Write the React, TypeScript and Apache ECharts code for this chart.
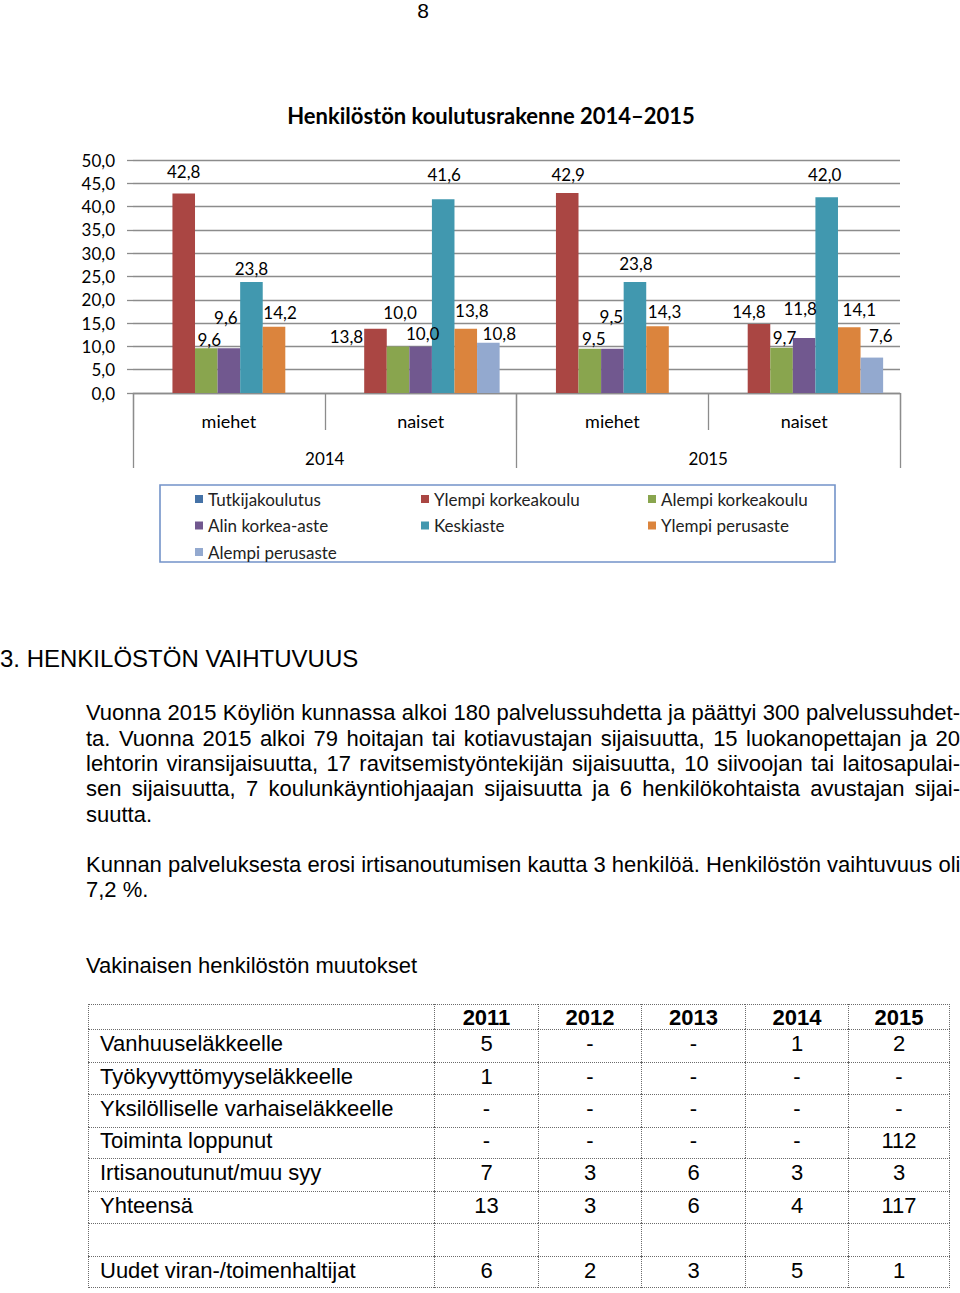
import React, { useEffect, useRef } from "react";
import * as echarts from "echarts";

// ---------- Chart data ----------
const categories = ["miehet", "naiset", "miehet", "naiset"];
const years = ["2014", "2015"];
const seriesNames = [
  "Tutkijakoulutus",
  "Ylempi korkeakoulu",
  "Alempi korkeakoulu",
  "Alin korkea-aste",
  "Keskiaste",
  "Ylempi perusaste",
  "Alempi perusaste",
];
const tutkijakoulutus: (number | null)[] = [null, null, null, null];
const ylempiKorkeakoulu: (number | null)[] = [42.8, 13.8, 42.9, 14.8];
const alempiKorkeakoulu: (number | null)[] = [9.6, 10.0, 9.5, 9.7];
const alinKorkeaAste: (number | null)[] = [9.6, 10.0, 9.5, 11.8];
const keskiaste: (number | null)[] = [23.8, 41.6, 23.8, 42.0];
const ylempiPerusaste: (number | null)[] = [14.2, 13.8, 14.3, 14.1];
const alempiPerusaste: (number | null)[] = [null, 10.8, null, 7.6];
const seriesValues = [
  tutkijakoulutus,
  ylempiKorkeakoulu,
  alempiKorkeakoulu,
  alinKorkeaAste,
  keskiaste,
  ylempiPerusaste,
  alempiPerusaste,
];

// ---------- Table data ----------
const tableYears = ["2011", "2012", "2013", "2014", "2015"];
const rowLabels = [
  "Vanhuuseläkkeelle",
  "Työkyvyttömyyseläkkeelle",
  "Yksilölliselle varhaiseläkkeelle",
  "Toiminta loppunut",
  "Irtisanoutunut/muu syy",
  "Yhteensä",
  "",
  "Uudet viran-/toimenhaltijat",
];
const rowValues = [
  ["5", "-", "-", "1", "2"],
  ["1", "-", "-", "-", "-"],
  ["-", "-", "-", "-", "-"],
  ["-", "-", "-", "-", "112"],
  ["7", "3", "6", "3", "3"],
  ["13", "3", "6", "4", "117"],
  ["", "", "", "", ""],
  ["6", "2", "3", "5", "1"],
];

// ---------- Text ----------
const pageNumber = "8";
const chartTitle = "Henkilöstön koulutusrakenne 2014–2015";
const heading = "3. HENKILÖSTÖN VAIHTUVUUS";
const paragraph1 = [
  "Vuonna 2015 Köyliön kunnassa alkoi 180 palvelussuhdetta ja päättyi 300 palvelussuhdet-",
  "ta. Vuonna 2015 alkoi 79 hoitajan tai kotiavustajan sijaisuutta, 15 luokanopettajan ja 20",
  "lehtorin viransijaisuutta, 17 ravitsemistyöntekijän sijaisuutta, 10 siivoojan tai laitosapulai-",
  "sen sijaisuutta, 7 koulunkäyntiohjaajan sijaisuutta ja 6 henkilökohtaista avustajan sijai-",
  "suutta.",
];
const paragraph2 = [
  "Kunnan palveluksesta erosi irtisanoutumisen kautta 3 henkilöä. Henkilöstön vaihtuvuus oli",
  "7,2 %.",
];
const tableCaption = "Vakinaisen henkilöstön muutokset";

// ---------- Styles (positions / colours) ----------
const colors = ["#4572A7", "#AA4643", "#89A54E", "#71588F", "#4198AF", "#DB843D", "#93A9CF"];
// label nudges [dx, dy] per series per category (style only)
const labelNudges: number[][][] = [
  [[0, 0], [0, 0], [0, 0], [0, 0]],
  [[0, -9], [-29, 21], [1, -5], [-10, 1]],
  [[3, 5], [2, -20], [4, 3], [3, 3]],
  [[-3, -17], [2, 1], [-1, -19], [-4, -16]],
  [[0, 0], [1, -11], [1, -5], [-2, -9]],
  [[6, -1], [6, -5], [7, -1], [10, -4]],
  [[0, 0], [11, 4], [0, 0], [9, -9]],
];
const colX = [88, 434, 538, 641, 745, 848, 950];
const rowY = [1004, 1029, 1062, 1094, 1127, 1158, 1191, 1223, 1256, 1288];

const chartFont = "Lato, 'Open Sans', sans-serif";
const fmt = (v: number) => v.toFixed(1).replace(".", ",");
const gridColor = "#8c8c8c";

function buildOption(): any {
  const series = seriesNames.map((name, si) => ({
    type: "bar",
    name,
    xAxisIndex: 0,
    yAxisIndex: 0,
    barGap: "0%",
    barCategoryGap: "17.6%",
    itemStyle: { color: colors[si] },
    label: {
      show: true,
      position: "top",
      distance: 5,
      fontSize: 17,
      fontFamily: chartFont,
      color: "#000",
      formatter: (p: any) => (p.value == null ? "" : fmt(p.value)),
    },
    data: seriesValues[si].map((v, ci) => ({
      value: v,
      label: { offset: labelNudges[si][ci] },
    })),
  }));

  const legendCommon = {
    orient: "vertical",
    top: 490,
    itemWidth: 8,
    itemHeight: 8,
    itemGap: 8.5,
    icon: "rect",
    padding: 0,
    selectedMode: false,
    textStyle: { fontSize: 17, lineHeight: 18, color: "#222", fontFamily: chartFont },
  };

  return {
    animation: false,
    backgroundColor: "#fff",
    color: colors,
    textStyle: { fontFamily: chartFont },
    grid: { left: 133, top: 160, width: 767, height: 233, containLabel: false },
    xAxis: [
      {
        type: "category",
        data: categories,
        position: "bottom",
        axisLine: { show: true, lineStyle: { color: gridColor, width: 1.3 } },
        axisTick: { show: true, length: 37, lineStyle: { color: gridColor, width: 1.3 } },
        axisLabel: { fontSize: 18, color: "#000", margin: 19, fontFamily: chartFont },
      },
      {
        type: "category",
        data: years,
        position: "bottom",
        offset: 0,
        axisLine: { show: false },
        axisTick: { show: true, length: 75, lineStyle: { color: gridColor, width: 1.3 } },
        axisLabel: { fontSize: 17, color: "#000", margin: 57, fontFamily: chartFont },
      },
    ],
    yAxis: {
      type: "value",
      min: 0,
      max: 50,
      interval: 5,
      axisLine: { show: false },
      axisTick: { show: true, length: 6, lineStyle: { color: gridColor, width: 1.3 } },
      splitLine: { show: true, lineStyle: { color: gridColor, width: 1.3 } },
      axisLabel: { fontSize: 17, color: "#000", margin: 18, formatter: (v: number) => fmt(v), fontFamily: chartFont },
    },
    legend: [
      { ...legendCommon, left: 195, data: [seriesNames[0], seriesNames[3], seriesNames[6]] },
      { ...legendCommon, left: 421, data: [seriesNames[1], seriesNames[4]] },
      { ...legendCommon, left: 648, data: [seriesNames[2], seriesNames[5]] },
    ],
    graphic: [
      {
        type: "text",
        x: 491,
        y: 115,
        style: {
          text: chartTitle,
          textAlign: "center",
          textVerticalAlign: "middle",
          fontSize: 22,
          fontWeight: "bold",
          fontFamily: chartFont,
          fill: "#000",
        },
      },
      {
        type: "rect",
        shape: { x: 160, y: 485, width: 675, height: 77 },
        style: { fill: "none", stroke: "#7393C9", lineWidth: 1.6 },
      },
    ],
    series,
  };
}

const bodyFont = "'Liberation Sans', Arial, sans-serif";

function Line({ text, top, left, width, justify, size, bold }: any) {
  return (
    <div
      style={{
        position: "absolute",
        left,
        top,
        width,
        height: 26,
        lineHeight: "26px",
        fontSize: size,
        fontWeight: bold ? "bold" : "normal",
        whiteSpace: "nowrap",
        textAlign: justify ? "justify" : "left",
        textAlignLast: justify ? "justify" : "left",
      } as any}
    >
      {text}
    </div>
  );
}

export default function App() {
  const ref = useRef<HTMLDivElement>(null);
  useEffect(() => {
    if (!ref.current) return;
    const chart = echarts.init(ref.current, undefined, { renderer: "svg" });
    chart.setOption(buildOption());
    return () => chart.dispose();
  }, []);

  const p1Centers = [713, 739, 764, 789, 815];
  const p2Centers = [865, 890];
  const dotted = "1px dotted #6a6a6a";

  const cells: any[] = [];
  const allRows = [["", ...tableYears], ...rowLabels.map((l, i) => [l, ...rowValues[i]])];
  allRows.forEach((row, ri) => {
    row.forEach((txt, ci) => {
      const x0 = colX[ci];
      const x1 = colX[ci + 1];
      const y0 = rowY[ri];
      const y1 = rowY[ri + 1];
      const h = y1 - y0;
      cells.push(
        <div
          key={`c${ri}-${ci}`}
          style={{
            position: "absolute",
            left: x0,
            top: y0,
            width: x1 - x0,
            height: h,
            boxSizing: "border-box",
            borderLeft: dotted,
            borderTop: dotted,
            borderRight: ci === row.length - 1 ? dotted : "none",
            borderBottom: ri === allRows.length - 1 ? dotted : "none",
            fontSize: 22,
            fontWeight: ri === 0 ? "bold" : "normal",
            lineHeight: `${ri === 0 ? h : h - 5}px`,
            textAlign: ci === 0 ? "left" : "center",
            paddingLeft: ci === 0 ? 11 : 0,
            whiteSpace: "nowrap",
            overflow: "visible",
          }}
        >
          {txt}
        </div>
      );
    });
  });

  return (
    <div
      style={{
        position: "absolute",
        left: 0,
        top: 0,
        width: 960,
        height: 1293,
        background: "#fff",
        color: "#000",
        fontFamily: bodyFont,
        overflow: "hidden",
      }}
    >
      <div ref={ref} style={{ position: "absolute", left: 0, top: 0, width: 960, height: 600 }} />
      <div
        style={{
          position: "absolute",
          left: 403,
          top: 0,
          width: 40,
          height: 22,
          textAlign: "center",
          fontSize: 21,
          lineHeight: "21px",
        }}
      >
        {pageNumber}
      </div>
      <Line text={heading} top={660 - 14} left={0} width={700} size={24} />
      {paragraph1.map((t, i) => (
        <Line key={`p1${i}`} text={t} top={p1Centers[i] - 13} left={86} width={874} size={22} justify={i < paragraph1.length - 1} />
      ))}
      {paragraph2.map((t, i) => (
        <Line key={`p2${i}`} text={t} top={p2Centers[i] - 13} left={86} width={874} size={22} justify={i < paragraph2.length - 1} />
      ))}
      <Line text={tableCaption} top={966 - 13} left={86} width={600} size={22} />
      {cells}
    </div>
  );
}
